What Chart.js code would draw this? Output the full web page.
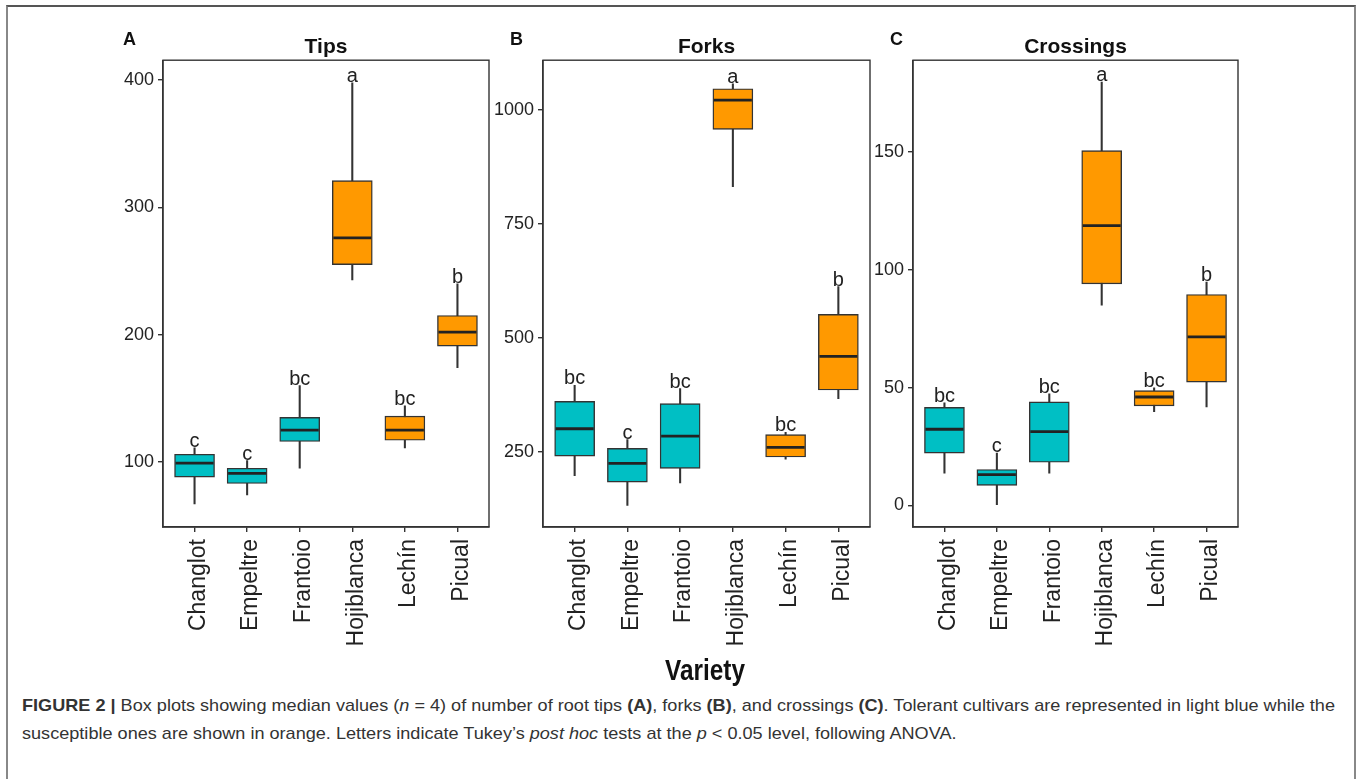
<!DOCTYPE html>
<html>
<head>
<meta charset="utf-8">
<script src="https://cdn.jsdelivr.net/npm/chart.js@4.4.1/dist/chart.umd.min.js"></script>
<style>
  html, body { margin: 0; padding: 0; background: #fff; }
  #wrap { position: relative; width: 1360px; height: 779px; overflow: hidden; background: #fff; font-family: "Liberation Sans", Arial, sans-serif; }
  #frame { position: absolute; left: 6px; top: 5px; width: 1346px; height: 800px; border-top: 2px solid #555; border-left: 2px solid #888; border-right: 2px solid #888; }
  canvas { position: absolute; }
  .plab { position: absolute; font-weight: bold; font-size: 18px; color: #111; }
  #xtitle { position: absolute; left: 655px; width: 100px; text-align: center; top: 654px; font-family: "Liberation Sans", Arial, sans-serif; font-weight: bold; font-size: 29px; color: #111; transform: scaleX(0.84); transform-origin: 50% 0; }
  .cap { position: absolute; left: 22px; white-space: nowrap; font-family: "Liberation Sans Narrow", "Liberation Sans", Arial, sans-serif; font-size: 17px; color: #333; transform-origin: 0 0; }
  .cap b { color: #333; }
</style>
</head>
<body>
<div id="wrap">
  <div id="frame"></div>
  <canvas id="cA" width="404" height="640" style="left:90px;top:20px;"></canvas>
  <canvas id="cB" width="395" height="640" style="left:480px;top:20px;"></canvas>
  <canvas id="cC" width="383" height="640" style="left:860px;top:20px;"></canvas>
  <div class="plab" style="left:123px;top:29px;">A</div>
  <div class="plab" style="left:510px;top:29px;">B</div>
  <div class="plab" style="left:890px;top:29px;">C</div>
  <div id="xtitle">Variety</div>
  <div class="cap" id="cap1" style="top:696px;"><b>FIGURE 2 |</b> Box plots showing median values (<i>n</i> = 4) of number of root tips <b>(A)</b>, forks <b>(B)</b>, and crossings <b>(C)</b>. Tolerant cultivars are represented in light blue while the</div>
  <div class="cap" id="cap2" style="top:724px;">susceptible ones are shown in orange. Letters indicate Tukey’s <i>post hoc</i> tests at the <i>p</i> &lt; 0.05 level, following ANOVA.</div>
</div>
<script>
// ---- Data ----
const categories = ['Changlot', 'Empeltre', 'Frantoio', 'Hojiblanca', 'Lechín', 'Picual'];
const groups = ['tolerant', 'tolerant', 'tolerant', 'susceptible', 'susceptible', 'susceptible'];

const tipsMin = [67, 74, 95, 243, 111, 174];
const tipsQ1  = [88, 83, 116, 255, 117, 191];
const tipsMed = [99, 91, 125, 276, 125, 202];
const tipsQ3  = [106, 95, 135, 321, 136, 215];
const tipsMax = [111, 101, 160, 398, 144, 240];
const tipsLetters = ['c', 'c', 'bc', 'a', 'bc', 'b'];
const tipsTicks = [100, 200, 300, 400];

const forksMin = [198, 133, 182, 832, 234, 367];
const forksQ1  = [241, 184, 214, 958, 239, 386];
const forksMed = [301, 225, 285, 1022, 260, 460];
const forksQ3  = [361, 258, 356, 1047, 288, 552];
const forksMax = [396, 277, 389, 1058, 293, 613];
const forksLetters = ['bc', 'c', 'bc', 'a', 'bc', 'b'];
const forksTicks = [250, 500, 750, 1000];

const crossMin = [13.7, 0, 13.7, 85, 39.8, 41.8];
const crossQ1  = [22.2, 8.5, 18.3, 94, 42.2, 52.3];
const crossMed = [32.3, 13, 31.3, 118.8, 46, 71.5];
const crossQ3  = [41.6, 15.2, 43.9, 150.6, 48.7, 89.5];
const crossMax = [43.5, 22.2, 47.3, 179.7, 49.9, 94.8];
const crossLetters = ['bc', 'c', 'bc', 'a', 'bc', 'b'];
const crossTicks = [0, 50, 100, 150];

// ---- Styling ----
const groupColor = { tolerant: '#00BFC4', susceptible: '#FF9900' };
const ink = '#333333';

const boxExtras = {
  id: 'boxExtras',
  afterDatasetsDraw(chart, args, opts) {
    const { ctx, chartArea, scales } = chart;
    const x = scales.x, y = scales.y;
    const meta = chart.getDatasetMeta(1);
    ctx.save();
    // medians
    opts.med.forEach((m, i) => {
      const bar = meta.data[i];
      const half = bar.width / 2;
      const cx = bar.x;
      const py = y.getPixelForValue(m);
      ctx.beginPath();
      ctx.strokeStyle = '#222';
      ctx.lineWidth = 2.8;
      ctx.moveTo(cx - half + 1, py);
      ctx.lineTo(cx + half - 1, py);
      ctx.stroke();
    });
    // letters
    ctx.fillStyle = '#222';
    ctx.font = '20px "Liberation Sans", Arial, sans-serif';
    ctx.textAlign = 'center';
    ctx.textBaseline = 'alphabetic';
    opts.letters.forEach((t, i) => {
      const cx = x.getPixelForValue(i + 1);
      const py = y.getPixelForValue(opts.max[i]);
      ctx.fillText(t, cx, py - 1);
    });
    // panel frame
    ctx.strokeStyle = ink;
    ctx.lineWidth = 1.4;
    ctx.strokeRect(chartArea.left, chartArea.top, chartArea.right - chartArea.left, chartArea.bottom - chartArea.top);
    ctx.restore();
  }
};

function makePanel(id, title, mins, q1s, meds, q3s, maxs, letters, yMin, yMax, yTicks, yAxisWidth) {
  const fill = groups.map(g => groupColor[g]);
  new Chart(document.getElementById(id), {
    type: 'bar',
    data: {
      datasets: [
        {
          label: 'whisker',
          data: categories.map((c, i) => ({ x: i + 1, y: [mins[i], maxs[i]] })),
          backgroundColor: ink,
          borderWidth: 0,
          barThickness: 1.4,
          grouped: false,
          order: 2
        },
        {
          label: 'box',
          data: categories.map((c, i) => ({ x: i + 1, y: [q1s[i], q3s[i]] })),
          backgroundColor: fill,
          borderColor: ink,
          borderWidth: 1.4,
          borderSkipped: false,
          barThickness: 40,
          grouped: false,
          order: 1
        }
      ]
    },
    options: {
      responsive: false,
      animation: false,
      layout: { padding: { top: 13, right: 5, left: 0, bottom: 0 } },
      plugins: {
        legend: { display: false },
        tooltip: { enabled: false },
        title: {
          display: true, text: title, fullSize: false, color: '#111',
          font: { family: '"Liberation Sans", Arial, sans-serif', size: 21, weight: 'bold' },
          padding: { top: 2, bottom: 0 }
        },
        boxExtras: { med: meds, max: maxs, letters: letters }
      },
      scales: {
        x: {
          type: 'linear', min: 0.4, max: 6.6, offset: false,
          afterBuildTicks: (s) => { s.ticks = categories.map((c, i) => ({ value: i + 1 })); },
          afterFit: (s) => { s.height = 133; },
          ticks: {
            autoSkip: false, minRotation: 90, maxRotation: 90, padding: 7, labelOffset: 4,
            color: '#222', font: { family: '"Liberation Sans", Arial, sans-serif', size: 23 },
            callback: (v) => categories[Math.round(v) - 1]
          },
          grid: { offset: false, drawOnChartArea: false, drawTicks: true, tickLength: 5, color: ink, lineWidth: 1.4 },
          border: { display: true, color: ink, width: 1.4 }
        },
        y: {
          type: 'linear', min: yMin, max: yMax,
          afterBuildTicks: (s) => { s.ticks = yTicks.map(v => ({ value: v })); },
          afterFit: (s) => { s.width = yAxisWidth; },
          ticks: { padding: 4, color: '#222', font: { family: '"Liberation Sans", Arial, sans-serif', size: 18 },
                   callback: (v) => String(v) },
          grid: { drawOnChartArea: false, drawTicks: true, tickLength: 5, color: ink, lineWidth: 1.4 },
          border: { display: true, color: ink, width: 1.4 }
        }
      }
    },
    plugins: [boxExtras]
  });
}

makePanel('cA', 'Tips', tipsMin, tipsQ1, tipsMed, tipsQ3, tipsMax, tipsLetters, 48.8, 415.7, tipsTicks, 73);
makePanel('cB', 'Forks', forksMin, forksQ1, forksMed, forksQ3, forksMax, forksLetters, 85.4, 1109.7, forksTicks, 63);
makePanel('cC', 'Crossings', crossMin, crossQ1, crossMed, crossQ3, crossMax, crossLetters, -9.2, 189, crossTicks, 53);

// fit caption line 1 to its measured width in the reference
(function fitCaption() {
  const c1 = document.getElementById('cap1');
  const c2 = document.getElementById('cap2');
  const target = 1313;
  const w = c1.getBoundingClientRect().width;
  const k = target / w;
  c1.style.transform = 'scaleX(' + k + ')';
  c2.style.transform = 'scaleX(' + k + ')';
})();
</script>
</body>
</html>
